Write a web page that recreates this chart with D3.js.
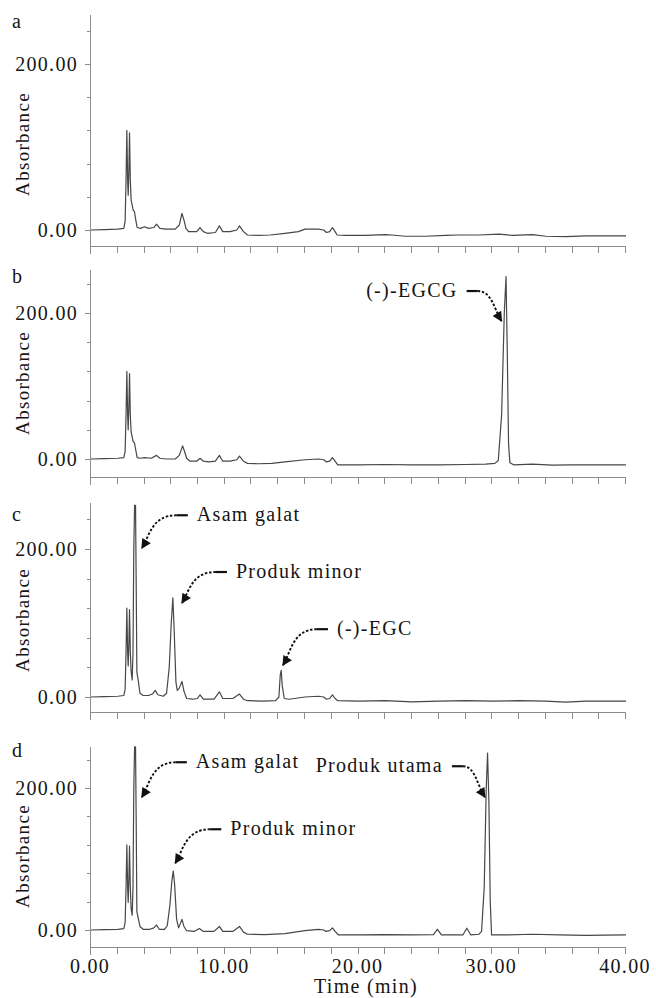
<!DOCTYPE html>
<html lang="en">
<head>
<meta charset="UTF-8">
<title>Kromatogram HPLC</title>
<script src="https://d3js.org/d3.v7.min.js"></script>
<style>
  body { margin: 0; background: #fff; }
  svg { display: block; font-family: "Liberation Serif", "Times New Roman", serif; }
  .trace { fill: none; stroke: #474747; stroke-width: 1.2px; stroke-linejoin: round; }
  .axis-line, .tick { stroke: #8c8c8c; stroke-width: 1px; shape-rendering: crispEdges; }
  .lbl { fill: #151515; font-size: 20px; letter-spacing: 1.3px; }
  .arrow-solid { stroke: #111; stroke-width: 2.2px; fill: none; }
  .arrow-dash { stroke: #111; stroke-width: 1.9px; fill: none; stroke-dasharray: 2.5 1.8; }
</style>
</head>
<body>
<svg id="chart" width="656" height="998"></svg>
<script>
// chromatogram traces, [time (min), absorbance]
const traceA = [[0,0],[1,0.5],[2,1],[2.45,2],[2.55,10],[2.62,60],[2.68,120],[2.74,60],[2.78,42],[2.83,70],[2.88,117],[2.94,60],[3.0,36],[3.08,30],[3.15,24],[3.25,22],[3.35,12],[3.45,3],[3.7,2],[4.0,4],[4.3,2],[4.7,3],[4.9,7],[5.15,2],[5.6,1],[6.3,1],[6.6,6],[6.8,20],[6.95,12],[7.1,2],[7.3,-2],[7.9,-2],[8.15,3],[8.4,-2],[8.7,-4],[9.3,-3],[9.6,5],[9.85,-2],[10.4,-2],[10.9,0],[11.1,5],[11.4,-2],[11.7,-6],[12.5,-6.5],[13.4,-6],[14.5,-4],[15.5,-2],[16,1],[17,1],[17.4,0],[17.6,-3],[17.85,-2],[18.05,3],[18.25,-2],[18.4,-6],[19,-6.5],[20.5,-6.5],[22,-5.5],[22.5,-6],[23.5,-7.5],[25,-7.5],[26.5,-6.5],[27.5,-6],[29,-6],[30.5,-5],[31.5,-6.5],[33,-5.5],[34,-7.5],[35.5,-8],[37,-7],[38.5,-7],[40,-7]];
const traceB = [[0,0],[1,0.5],[2,1],[2.45,2],[2.55,10],[2.62,60],[2.68,120],[2.74,60],[2.78,40],[2.83,70],[2.88,117],[2.94,60],[3.0,37],[3.08,30],[3.15,24],[3.25,22],[3.35,12],[3.45,2],[3.7,1],[4.0,2],[4.5,1],[4.9,5],[5.15,1],[5.6,0],[6.3,0],[6.6,5],[6.85,18],[7.0,10],[7.15,1],[7.4,-3],[7.9,-3],[8.15,1],[8.4,-3],[8.8,-4],[9.3,-3],[9.6,5],[9.85,-3],[10.4,-3],[10.9,-1],[11.1,4],[11.4,-3],[11.7,-6],[12.5,-6.5],[13.5,-6],[14.5,-4],[16,-1],[17,0],[17.4,-1],[17.6,-4],[17.85,-3],[18.05,2],[18.25,-3],[18.45,-8],[20,-8],[22,-7.5],[24,-8],[26,-8],[28,-7.5],[29.5,-7],[30.2,-6],[30.45,-2],[30.7,60],[30.9,200],[31.03,250],[31.12,150],[31.22,20],[31.32,-5],[31.6,-8],[33,-7],[34.5,-8.5],[36,-8],[38,-8],[40,-8]];
const traceC = [[0,0],[1,0.5],[2,1],[2.45,2],[2.55,10],[2.62,60],[2.68,120],[2.74,60],[2.78,42],[2.83,70],[2.88,118],[2.94,60],[3.0,35],[3.08,23],[3.14,60],[3.2,200],[3.26,259],[3.33,259],[3.38,150],[3.43,34],[3.55,20],[3.66,5],[3.9,2],[4.3,2],[4.6,4],[4.8,9],[5.0,3],[5.4,1],[5.65,5],[5.85,40],[6.0,100],[6.12,134],[6.22,90],[6.35,20],[6.45,9],[6.6,12],[6.8,21],[6.95,8],[7.15,-2],[7.6,-3],[7.95,-2],[8.15,3],[8.4,-3],[9.2,-3],[9.6,7],[9.85,-2],[10.6,-2],[11.1,4],[11.4,-3],[11.7,-5],[12.8,-5.5],[13.8,-5],[14.05,0],[14.15,30],[14.22,36],[14.3,15],[14.45,-2],[14.8,-3],[16,0],[17,1],[17.4,0],[17.6,-3],[17.85,-2],[18.05,3],[18.25,-2],[18.45,-5],[20,-5.5],[22,-5],[24,-6.5],[26,-5.5],[28,-5],[30,-5.5],[32,-5],[34,-5.5],[35.5,-7],[37,-5.5],[40,-5.5]];
const traceD = [[0,0],[1,0.5],[2,1],[2.45,2],[2.55,10],[2.62,60],[2.68,120],[2.74,60],[2.78,39],[2.83,70],[2.88,118],[2.94,60],[3.0,30],[3.08,21],[3.14,60],[3.2,200],[3.26,258],[3.33,258],[3.38,150],[3.43,26],[3.55,15],[3.66,5],[3.9,1],[4.4,1],[4.7,3],[4.9,7],[5.1,1],[5.5,1],[5.7,6],[5.9,35],[6.05,70],[6.15,83],[6.25,65],[6.4,15],[6.55,3],[6.7,10],[6.8,15],[6.95,5],[7.15,-1],[7.7,-2],[8.1,2],[8.4,-2],[9.2,-2],[9.6,5],[9.85,-2],[10.6,-2],[11.1,5],[11.4,-3],[11.7,-6],[13,-6.5],[14.5,-5],[16,-1],[17,1],[17.4,0],[17.55,-2],[17.85,-1],[18.05,3],[18.25,-2],[18.5,-7],[20,-7],[22,-6.5],[24,-7],[25.6,-6.5],[25.9,1],[26.2,-7],[27.8,-7],[28.1,2.5],[28.4,-7],[29.0,-6],[29.2,-2],[29.4,60],[29.55,200],[29.65,249],[29.75,180],[29.85,40],[29.95,-7],[31,-7],[33,-6],[35,-7],[37,-7.5],[40,-7]];

const panelIds = ["a", "b", "c", "d"];
const traces = [traceA, traceB, traceC, traceD];
const xTickLabels = [0, 10, 20, 30, 40];
const yTickLabels = [0, 200];
const yMinorStep = 40;
const xMinorStep = 2;

// peak labels: text, panel, and the point (time, absorbance) the arrow points at
const annotations = [
  { panel: "b", label: "(-)-EGCG", t: 30.7, v: 189 },
  { panel: "c", label: "Asam galat", t: 3.8, v: 201 },
  { panel: "c", label: "Produk minor", t: 6.8, v: 127 },
  { panel: "c", label: "(-)-EGC", t: 14.35, v: 43 },
  { panel: "d", label: "Asam galat", t: 3.8, v: 187 },
  { panel: "d", label: "Produk minor", t: 6.3, v: 94 },
  { panel: "d", label: "Produk utama", t: 29.45, v: 187 }
];

// layout (pixels)
const panelLayout = {
  a: { top: 15, y200: 64, y0: 230, axisY: 246, letterY: 28 },
  b: { top: 270, y200: 313, y0: 459, axisY: 477, letterY: 283 },
  c: { top: 503, y200: 549, y0: 697, axisY: 712, letterY: 521 },
  d: { top: 747, y200: 788, y0: 930, axisY: 947, letterY: 757 }
};
// arrow start offset from arrow tip
const arrowOffsets = [[-35, -30], [46, -33], [45, -31], [45, -36], [45, -35], [46, -34], [-33, -31]];

const svg = d3.select("#chart");
const x = d3.scaleLinear().domain([0, 40]).range([91, 626]);
const fmt = d3.format(".2f");
const x0 = Math.round(x(0)) - 0.5;

svg.append("defs").append("marker")
  .attr("id", "ah")
  .attr("viewBox", "0 0 10 10")
  .attr("refX", 9).attr("refY", 5)
  .attr("markerWidth", 12).attr("markerHeight", 10)
  .attr("markerUnits", "userSpaceOnUse")
  .attr("orient", "auto")
  .append("path").attr("d", "M0,0 L10,5 L0,10 z").attr("fill", "#111");

panelIds.forEach((id, i) => {
  const L = panelLayout[id];
  const y = d3.scaleLinear().domain([0, 200]).range([L.y0, L.y200]);
  const g = svg.append("g").attr("class", "panel-" + id);

  // y axis
  g.append("line").attr("class", "axis-line")
    .attr("x1", x0).attr("x2", x0).attr("y1", L.top).attr("y2", L.axisY + 8);
  g.selectAll(".ytick").data(d3.range(0, 241, yMinorStep)).join("line")
    .attr("class", "tick")
    .attr("x1", d => yTickLabels.includes(d) ? x0 - 6 : x0 - 4).attr("x2", x0)
    .attr("y1", d => Math.round(y(d)) + 0.5).attr("y2", d => Math.round(y(d)) + 0.5);
  g.selectAll(".ylab").data(yTickLabels).join("text")
    .attr("class", "lbl")
    .attr("x", 78).attr("y", d => y(d) + 7)
    .attr("text-anchor", "end")
    .text(d => fmt(d));

  // x axis
  g.append("line").attr("class", "axis-line")
    .attr("x1", x0).attr("x2", x(40)).attr("y1", L.axisY + 0.5).attr("y2", L.axisY + 0.5);
  g.selectAll(".xtick").data(d3.range(0, 40.1, xMinorStep)).join("line")
    .attr("class", "tick")
    .attr("x1", d => Math.round(x(d)) - 0.5).attr("x2", d => Math.round(x(d)) - 0.5)
    .attr("y1", L.axisY).attr("y2", L.axisY + 7);

  g.append("text").attr("class", "lbl")
    .attr("transform", `translate(29,${(L.y0 + L.y200) / 2 - 3}) rotate(-90)`)
    .attr("text-anchor", "middle")
    .style("font-size", "19px")
    .text("Absorbance");

  g.append("text").attr("class", "lbl")
    .attr("x", 12).attr("y", L.letterY)
    .text(id);

  const line = d3.line().x(d => x(d[0])).y(d => y(d[1]));
  g.append("path").datum(traces[i]).attr("class", "trace").attr("d", line);

  annotations.forEach((a, k) => {
    if (a.panel !== id) return;
    const tx = x(a.t), ty = y(a.v);
    const sx = tx + arrowOffsets[k][0], sy = ty + arrowOffsets[k][1];
    const s = Math.sign(arrowOffsets[k][0]);
    const p1 = sx - s * 11;
    g.append("path").attr("class", "arrow-solid")
      .attr("d", `M${sx},${sy} L${p1},${sy}`);
    g.append("path").attr("class", "arrow-dash")
      .attr("marker-end", "url(#ah)")
      .attr("d", `M${p1},${sy} C${tx + s * 10},${sy} ${tx + s * 8},${ty - 13} ${tx},${ty}`);
    g.append("text").attr("class", "lbl")
      .attr("x", s > 0 ? sx + 9 : sx - 9)
      .attr("y", sy + 6)
      .attr("text-anchor", s > 0 ? "start" : "end")
      .text(a.label);
  });
});

// bottom axis labels (panel d)
const Ld = panelLayout.d;
svg.selectAll(".xlab").data(xTickLabels).join("text")
  .attr("class", "lbl")
  .attr("x", d => x(d) - 1).attr("y", Ld.axisY + 26)
  .attr("text-anchor", "middle")
  .text(d => fmt(d));
svg.append("text").attr("class", "lbl")
  .attr("x", 366).attr("y", 993)
  .attr("text-anchor", "middle")
  .text("Time (min)");
</script>
</body>
</html>
